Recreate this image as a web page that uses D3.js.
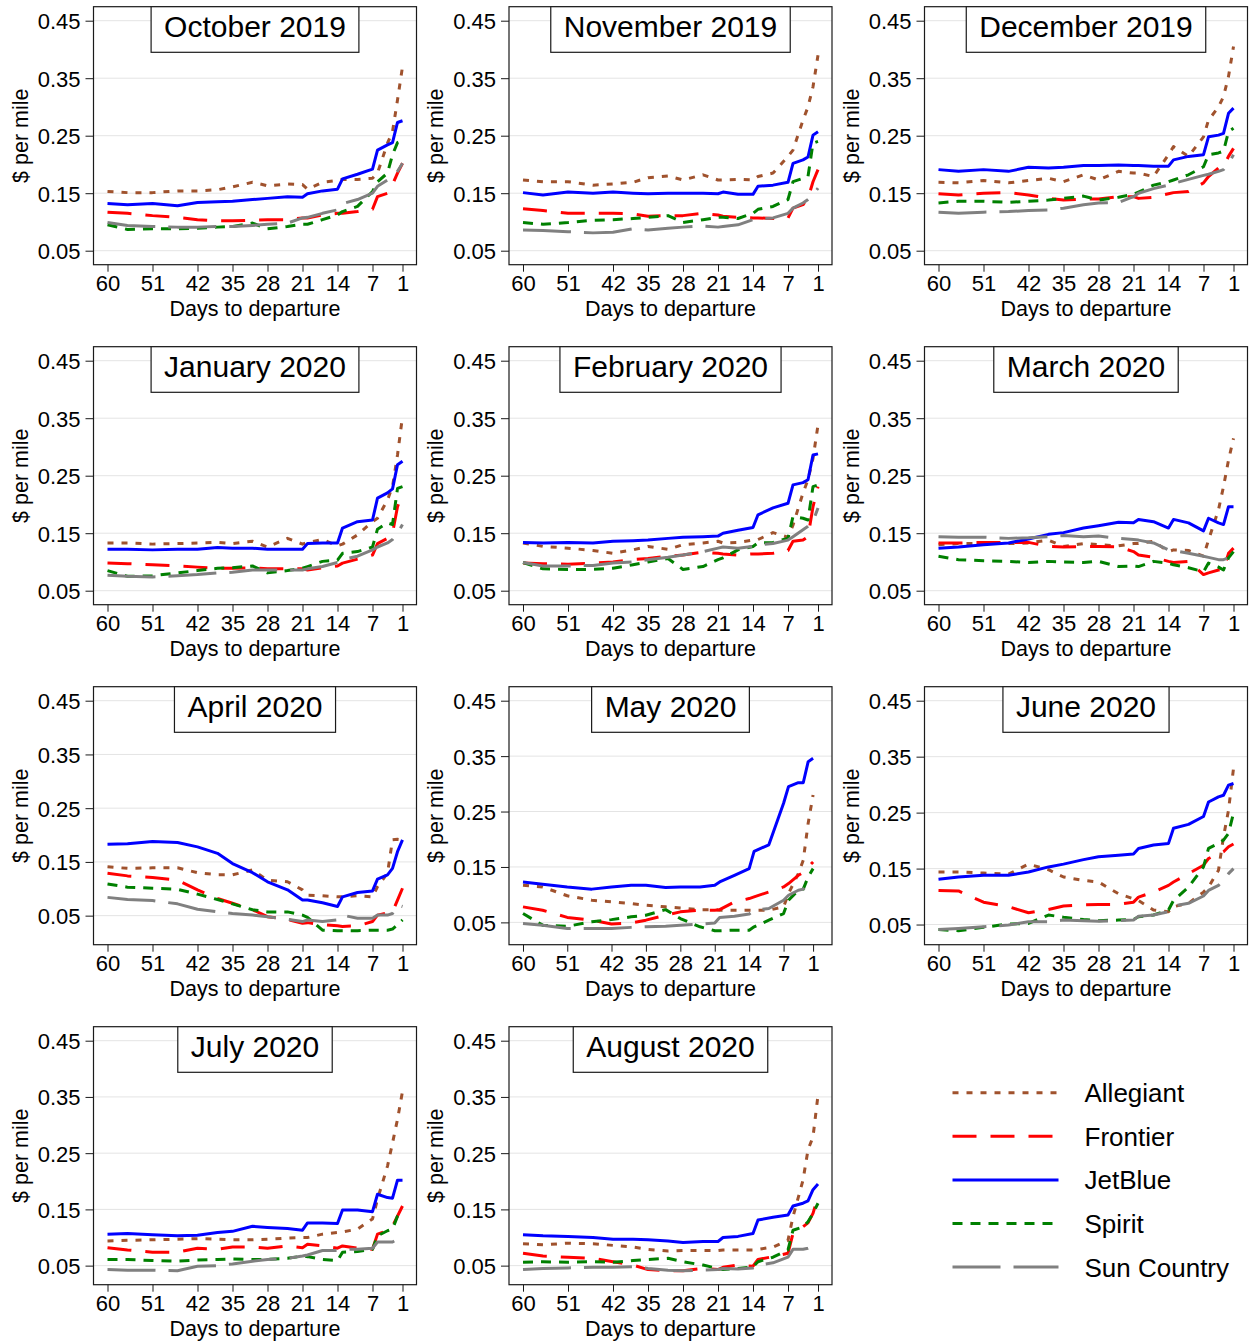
<!DOCTYPE html>
<meta charset="utf-8">
<style>
body { margin: 0; background: #fff; }
text { font-family: "Liberation Sans", Arial, Helvetica, sans-serif; fill: #000; }
.grid line { stroke: #e4e4e4; stroke-width: 1px; }
.frame { fill: none; stroke: #1a1a1a; stroke-width: 1.2px; }
.axis line { stroke: #1a1a1a; stroke-width: 1px; }
.axis path { display: none; }
.axis text { font-size: 22px; }
.titlebox { fill: #fff; stroke: #1a1a1a; stroke-width: 1.2px; }
.title { font-size: 30px; }
.xlabel { font-size: 21.5px; }
.ylabel { font-size: 21.5px; }
.legend text { font-size: 26px; }
.series { fill: none; stroke-width: 3px; stroke-linecap: butt; stroke-linejoin: round; }
</style>
<body>
<script src="https://cdn.jsdelivr.net/npm/d3@7/dist/d3.min.js"></script>
<script>

var days = [60, 56, 51, 46, 42, 38, 35, 31, 28, 24, 21, 20, 17, 14, 13, 10, 7, 6, 4, 3, 2, 1];
var xTicks = [60, 51, 42, 35, 28, 21, 14, 7, 1];
var yTicks = [0.05, 0.15, 0.25, 0.35, 0.45];

var months = ["October 2019", "November 2019", "December 2019", "January 2020",
  "February 2020", "March 2020", "April 2020", "May 2020", "June 2020",
  "July 2020", "August 2020"];
// last day on each panel's x range (May runs out to day 0)
var axisEnd = [1, 1, 1, 1, 1, 1, 1, 0, 1, 1, 1];

var carriers = ["Allegiant", "Frontier", "JetBlue", "Spirit", "Sun Country"];

// $ per mile, one row per month, one value per entry of days
var allegiant = [
  [.153,.151,.151,.154,.154,.156,.161,.169,.163,.166,.165,.157,.169,.172,.174,.174,.176,.185,.237,.257,.312,.370],
  [.173,.170,.170,.164,.166,.169,.177,.180,.173,.182,.173,.173,.174,.173,.179,.185,.214,.225,.277,.300,.335,.390],
  [.169,.168,.172,.168,.172,.176,.170,.182,.173,.188,.185,.185,.179,.217,.231,.214,.248,.277,.300,.318,.353,.405],
  [.133,.133,.131,.132,.133,.134,.132,.136,.126,.141,.131,.134,.139,.128,.131,.147,.170,.176,.208,.231,.286,.353],
  [.133,.127,.124,.120,.115,.121,.127,.122,.130,.133,.136,.133,.134,.138,.139,.151,.143,.164,.220,.243,.280,.338],
  [.130,.132,.132,.132,.133,.138,.127,.132,.130,.128,.132,.132,.136,.118,.121,.120,.110,.138,.191,.231,.277,.315],
  [.141,.138,.139,.139,.130,.126,.126,.135,.116,.113,.098,.088,.087,.085,.085,.087,.085,.104,.129,.191,.192,.191],
  [.117,.114,.098,.090,.087,.084,.081,.078,.076,.073,.073,.072,.072,.072,.072,.072,.078,.102,.138,.162,.229,.280],
  [.144,.144,.142,.140,.158,.148,.135,.129,.126,.105,.096,.093,.076,.073,.082,.088,.108,.117,.147,.207,.254,.329],
  [.094,.095,.096,.097,.098,.097,.096,.096,.097,.099,.100,.100,.106,.109,.110,.115,.133,.168,.227,.268,.310,.360],
  [.089,.087,.090,.089,.086,.083,.079,.076,.077,.077,.077,.078,.078,.078,.079,.083,.095,.137,.202,.256,.279,.353]
];
var frontier = [
  [.117,.115,.111,.108,.104,.102,.102,.103,.104,.104,.107,.107,.112,.115,.115,.118,.122,.144,.150,.165,.185,.202],
  [.123,.120,.115,.115,.115,.114,.110,.111,.111,.115,.112,.110,.108,.107,.107,.106,.107,.124,.130,.141,.170,.191],
  [.149,.147,.150,.151,.147,.141,.138,.140,.140,.144,.144,.141,.143,.149,.151,.153,.168,.179,.194,.196,.214,.228],
  [.098,.097,.095,.093,.091,.089,.089,.090,.088,.088,.088,.086,.090,.093,.098,.105,.112,.132,.141,.150,.196,.220],
  [.098,.097,.096,.098,.100,.104,.106,.110,.112,.117,.115,.114,.112,.114,.114,.115,.120,.136,.138,.144,.196,.231],
  [.133,.133,.134,.134,.134,.127,.126,.127,.127,.126,.118,.112,.108,.101,.099,.101,.078,.081,.086,.086,.115,.124],
  [.129,.124,.121,.116,.098,.082,.073,.061,.048,.043,.036,.037,.033,.031,.030,.031,.039,.051,.055,.057,.079,.101],
  [.078,.072,.059,.054,.047,.049,.054,.063,.069,.072,.072,.073,.087,.093,.096,.105,.114,.120,.135,.140,.150,.159],
  [.111,.110,.090,.082,.071,.077,.083,.085,.086,.086,.090,.099,.108,.120,.126,.141,.156,.168,.177,.180,.189,.194],
  [.082,.078,.074,.074,.081,.079,.083,.083,.081,.085,.082,.088,.085,.081,.085,.081,.079,.106,.112,.120,.138,.156],
  [.072,.067,.065,.063,.057,.051,.043,.041,.041,.045,.043,.047,.051,.049,.061,.066,.072,.107,.119,.126,.143,.173]
];
var jetblue = [
  [.132,.130,.132,.128,.134,.135,.136,.139,.141,.144,.143,.149,.154,.157,.175,.183,.192,.225,.234,.238,.273,.276],
  [.151,.147,.152,.150,.152,.150,.149,.150,.150,.150,.149,.152,.148,.148,.162,.164,.169,.202,.208,.213,.251,.257],
  [.191,.188,.191,.188,.195,.194,.195,.198,.198,.199,.198,.198,.197,.197,.208,.214,.217,.248,.251,.254,.289,.298],
  [.122,.122,.121,.122,.122,.125,.124,.124,.122,.122,.122,.132,.133,.133,.159,.170,.173,.211,.220,.227,.269,.275],
  [.134,.133,.134,.133,.136,.137,.138,.141,.143,.144,.145,.150,.155,.160,.182,.194,.202,.234,.238,.243,.286,.288],
  [.124,.126,.130,.133,.140,.148,.151,.159,.163,.169,.168,.174,.170,.159,.174,.168,.154,.176,.168,.165,.196,.196],
  [.183,.184,.188,.186,.178,.166,.147,.130,.113,.098,.079,.079,.074,.067,.085,.093,.096,.118,.126,.138,.169,.191],
  [.123,.119,.114,.110,.114,.117,.117,.113,.114,.114,.117,.123,.135,.147,.178,.190,.265,.295,.302,.302,.340,.346],
  [.131,.135,.138,.138,.144,.153,.158,.166,.171,.174,.176,.186,.192,.195,.222,.229,.243,.269,.278,.281,.299,.302],
  [.106,.107,.105,.103,.104,.109,.111,.120,.118,.116,.113,.126,.126,.125,.149,.149,.146,.177,.171,.170,.202,.202],
  [.105,.103,.102,.100,.097,.097,.096,.094,.091,.093,.093,.100,.102,.107,.131,.136,.140,.156,.161,.165,.185,.195]
];
var spirit = [
  [.095,.087,.088,.088,.089,.091,.092,.098,.088,.092,.096,.096,.104,.112,.118,.127,.153,.170,.185,.217,.238,.242],
  [.099,.096,.099,.103,.104,.106,.108,.111,.099,.104,.108,.108,.106,.115,.122,.127,.139,.170,.176,.179,.237,.240],
  [.133,.136,.136,.134,.136,.138,.141,.145,.138,.143,.148,.152,.164,.170,.173,.182,.196,.217,.220,.223,.257,.263],
  [.085,.075,.076,.081,.085,.089,.090,.093,.081,.085,.089,.092,.101,.103,.115,.118,.126,.157,.168,.165,.228,.231],
  [.099,.088,.087,.087,.089,.095,.100,.106,.087,.092,.104,.107,.121,.127,.133,.134,.141,.179,.176,.173,.231,.234],
  [.110,.104,.102,.101,.099,.101,.100,.099,.101,.092,.093,.092,.101,.098,.095,.090,.083,.098,.091,.086,.107,.118],
  [.109,.103,.101,.099,.090,.080,.072,.061,.057,.057,.051,.047,.023,.022,.022,.022,.023,.023,.023,.025,.033,.042],
  [.066,.045,.043,.051,.055,.060,.063,.073,.057,.042,.035,.035,.036,.036,.042,.054,.066,.090,.108,.110,.132,.147],
  [.041,.039,.045,.051,.052,.067,.063,.059,.057,.058,.059,.064,.067,.076,.093,.117,.153,.186,.195,.201,.213,.249],
  [.061,.061,.059,.058,.060,.061,.062,.061,.061,.063,.067,.066,.061,.059,.074,.075,.079,.103,.112,.115,.138,.147],
  [.056,.057,.056,.057,.056,.059,.061,.063,.057,.051,.045,.043,.045,.048,.057,.065,.078,.113,.119,.128,.143,.161]
];
var sunCountry = [
  [.099,.094,.092,.091,.091,.092,.092,.094,.096,.098,.107,.108,.115,.121,.132,.139,.150,.162,.173,.179,.188,.202],
  [.086,.085,.083,.081,.082,.088,.086,.089,.091,.093,.091,.092,.095,.104,.105,.107,.115,.124,.133,.139,.147,.159],
  [.117,.115,.117,.118,.120,.121,.124,.130,.133,.134,.144,.150,.158,.164,.167,.174,.181,.183,.188,.191,.202,.217],
  [.077,.075,.074,.076,.078,.081,.082,.086,.086,.086,.086,.088,.092,.099,.104,.110,.121,.126,.133,.139,.150,.165],
  [.099,.093,.093,.094,.098,.100,.104,.108,.112,.118,.124,.126,.124,.127,.130,.132,.138,.144,.156,.162,.170,.194],
  [.144,.143,.143,.141,.142,.144,.146,.144,.145,.141,.139,.138,.133,.121,.120,.115,.110,.108,.104,.104,.107,.115],
  [.084,.080,.078,.072,.062,.057,.054,.051,.048,.043,.039,.042,.039,.042,.051,.045,.045,.051,.051,.054,.070,.067],
  [.048,.045,.039,.039,.039,.041,.042,.043,.045,.047,.049,.059,.061,.065,.072,.075,.090,.099,.108,.110,.120,.128],
  [.041,.043,.046,.049,.055,.055,.058,.057,.056,.057,.058,.065,.067,.073,.083,.088,.101,.111,.120,.129,.141,.150],
  [.043,.042,.042,.041,.049,.050,.053,.058,.061,.063,.067,.069,.077,.077,.079,.079,.081,.092,.092,.092,.097,.102],
  [.043,.045,.046,.047,.047,.048,.045,.042,.041,.042,.043,.045,.044,.046,.051,.055,.065,.079,.079,.081,.084,.089]
];

var seriesValues = [allegiant, frontier, jetblue, spirit, sunCountry];
var lineStyles = [
  {color: "#a0522d", dash: "6,8"},
  {color: "#ff0000", dash: "24,14"},
  {color: "#0000ff", dash: null},
  {color: "#008000", dash: "10,8"},
  {color: "#808080", dash: "48,13"}
];

// panel geometry
var W = 1249, H = 1342;
var left0 = 93.5, colStep = 415.5, top0 = 6.7, rowStep = 340;
var pw = 323, ph = 258, pad = 14;

var svg = d3.select("body").append("svg")
    .attr("width", W)
    .attr("height", H);
svg.append("rect").attr("width", W).attr("height", H).attr("fill", "#fff");

var line = d3.line();

months.forEach(function(month, i) {
  var col = i % 3, row = Math.floor(i / 3);
  var g = svg.append("g")
      .attr("transform", "translate(" + (left0 + col * colStep) + "," + (top0 + row * rowStep) + ")");

  var panelSeries = seriesValues.map(function(arr) {
    return days.map(function(d, k) { return {day: d, v: arr[i][k]}; });
  });
  var dataMin = d3.min(panelSeries, function(s) { return d3.min(s, function(p) { return p.v; }); });

  var x = d3.scaleLinear().domain([60, axisEnd[i]]).range([pad, pw - pad]);
  var y = d3.scaleLinear().domain([Math.min(0.05, dataMin), 0.45]).range([ph - pad, pad]);

  // gridlines
  g.append("g").attr("class", "grid")
    .selectAll("line").data(yTicks).enter().append("line")
      .attr("x1", 0).attr("x2", pw)
      .attr("y1", function(d) { return y(d); })
      .attr("y2", function(d) { return y(d); });

  // lines
  line.x(function(d) { return x(d.day); })
      .y(function(d) { return y(d.v); });
  panelSeries.forEach(function(s, k) {
    g.append("path")
      .attr("class", "series")
      .attr("d", line(s))
      .style("stroke", lineStyles[k].color)
      .style("stroke-dasharray", lineStyles[k].dash);
  });

  g.append("rect").attr("class", "frame").attr("width", pw).attr("height", ph);

  // axes
  var ya = g.append("g").attr("class", "axis")
    .call(d3.axisLeft(y).tickValues(yTicks).tickFormat(d3.format(".2f")).tickSize(8).tickPadding(5));
  ya.selectAll("text").attr("dy", "0.36em");

  g.append("g").attr("class", "axis")
    .attr("transform", "translate(0," + ph + ")")
    .call(d3.axisBottom(x).tickValues(xTicks).tickFormat(d3.format("d")).tickSize(7).tickPadding(4));

  g.append("text").attr("class", "xlabel")
    .attr("x", pw / 2).attr("y", ph + 51.5)
    .attr("text-anchor", "middle")
    .text("Days to departure");

  g.append("text").attr("class", "ylabel")
    .attr("transform", "translate(-66," + (ph / 2) + ") rotate(-90)")
    .attr("text-anchor", "middle")
    .text("$ per mile");

  // title box sitting on the top edge
  var box = g.append("rect").attr("class", "titlebox").attr("y", 0).attr("height", 45.6);
  var t = g.append("text").attr("class", "title")
    .attr("x", pw / 2).attr("y", 30.5)
    .attr("text-anchor", "middle")
    .text(month);
  var tw = t.node().getComputedTextLength();
  box.attr("x", pw / 2 - tw / 2 - 13).attr("width", tw + 26);
});

// legend in the empty last cell
var lg = svg.append("g").attr("class", "legend")
    .attr("transform", "translate(" + (left0 + 2 * colStep) + "," + (top0 + 3 * rowStep) + ")");
carriers.forEach(function(c, k) {
  var yy = 66 + k * 43.6;
  lg.append("line")
    .attr("x1", 28).attr("x2", 134)
    .attr("y1", yy).attr("y2", yy)
    .attr("class", "series")
    .style("stroke", lineStyles[k].color)
    .style("stroke-dasharray", lineStyles[k].dash);
  lg.append("text").attr("x", 160).attr("y", yy + 9.5).text(c);
});

</script>
</body>
